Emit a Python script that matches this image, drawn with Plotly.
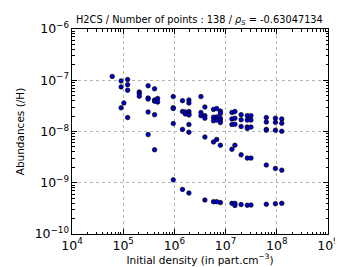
import plotly.graph_objects as go

# Initial density (part.cm^-3) and abundances (/H)
density = (
    [6.1e4]
    + [9.1e4] * 3
    + [1.03e5]
    + [1.22e5] * 4
    + [2.06e5] * 3
    + [3.07e5] * 5
    + [4.1e5] * 5
    + [4.7e5] * 2
    + [9.5e5] * 5
    + [1.44e6] * 4
    + [1.63e6] * 2
    + [1.92e6] * 8
    + [3.3e6] * 3
    + [3.94e6] * 5
    + [5.8e6] * 5
    + [6.7e6] * 5
    + [7.9e6] * 7
    + [1.33e7] * 5
    + [1.52e7] * 6
    + [2.01e7] * 5
    + [2.65e7] * 6
    + [3.13e7] * 5
    + [6.24e7] * 6
    + [9.4e7] * 5
    + [1.25e8] * 5
)
abundance = [
    1.19e-7,
    9.7e-8, 7.4e-8, 2.9e-8,
    3.6e-8,
    1.03e-7, 8.2e-8, 6.4e-8, 1.87e-8,
    5.9e-8, 5.5e-8, 4.9e-8,
    7.8e-8, 4.5e-8, 4.3e-8, 2.4e-8, 8.7e-9,
    6.8e-8, 4.1e-8, 3.9e-8, 2.13e-8, 4.4e-9,
    4.4e-8, 3.75e-8,
    4.8e-8, 2.9e-8, 2.8e-8, 1.43e-8, 1.14e-9,
    4.0e-8, 2.45e-8, 1.1e-8, 7.4e-10,
    2.4e-8, 2.2e-8,
    4.1e-8, 3.6e-8, 2.45e-8, 2.2e-8, 2.1e-8, 1.37e-8, 9.7e-9, 6.3e-10,
    4.8e-8, 2.35e-8, 2.04e-8,
    3.0e-8, 2.04e-8, 1.82e-8, 7.8e-9, 4.6e-10,
    2.7e-8, 1.9e-8, 1.62e-8, 6.25e-9, 4.27e-10,
    2.8e-8, 1.92e-8, 1.67e-8, 7.0e-9, 4.27e-10,
    2.5e-8, 2.25e-8, 1.82e-8, 1.62e-8, 1.49e-8, 5.4e-9, 4.1e-10,
    2.35e-8, 1.76e-8, 1.37e-8, 4.5e-9, 3.96e-10,
    2.45e-8, 1.82e-8, 1.39e-8, 5.4e-9, 3.96e-10, 3.6e-10,
    2.13e-8, 1.69e-8, 1.25e-8, 3.5e-9, 3.75e-10,
    2.04e-8, 1.67e-8, 1.22e-8, 1.15e-8, 3.03e-9, 3.64e-10,
    2.04e-8, 1.67e-8, 1.22e-8, 3.03e-9, 3.67e-10,
    1.87e-8, 1.53e-8, 1.1e-8, 1.06e-8, 2.22e-9, 3.8e-10,
    1.82e-8, 1.51e-8, 1.06e-8, 1.9e-9, 3.9e-10,
    1.76e-8, 1.45e-8, 1.01e-8, 1.76e-9, 3.96e-10,
]

species = "H2CS"
n_points = 138
rho_s = "-0.63047134"

x_range = [4, 9]
y_range = [-10, -6]

fig = go.Figure()
fig.add_trace(go.Scatter(
    x=density, y=abundance, mode="markers",
    marker=dict(size=4.5, color="#0000cc", line=dict(color="black", width=0.7)),
    showlegend=False,
))

axis_common = dict(
    type="log", dtick=1, exponentformat="power",
    showline=True, linecolor="black", linewidth=1, mirror="allticks",
    ticks="inside", ticklen=5, tickcolor="black",
    showgrid=True, gridcolor="#b4b4b4", gridwidth=0.8, griddash="dot",
    zeroline=False,
    tickfont=dict(family="DejaVu Sans", size=10, color="black"),
    minor=dict(ticks="inside", ticklen=2.5, tickcolor="black", dtick="D1", showgrid=False),
)

fig.update_xaxes(range=x_range, **axis_common,
                 title=dict(text="Initial density (in part.cm<sup>−3</sup>)",
                            font=dict(family="DejaVu Sans", size=10.5, color="black"),
                            standoff=3))
fig.update_yaxes(range=y_range, **axis_common,
                 title=dict(text="Abundances (/H)",
                            font=dict(family="DejaVu Sans", size=10.5, color="black"),
                            standoff=7))

fig.update_layout(
    width=343, height=267,
    margin=dict(l=49, r=16, t=17, b=35),
    plot_bgcolor="white", paper_bgcolor="white",
)
fig.add_annotation(
    text=f"{species} / Number of points : {n_points} / <i>ρ</i><sub><i>S</i></sub> = {rho_s}",
    font=dict(family="DejaVu Sans", size=9.8, color="black"),
    xref="paper", yref="paper", x=0.007, xanchor="left", align="left",
    y=1, yanchor="bottom", yshift=0, showarrow=False,
)

fig.write_html("out.html")
